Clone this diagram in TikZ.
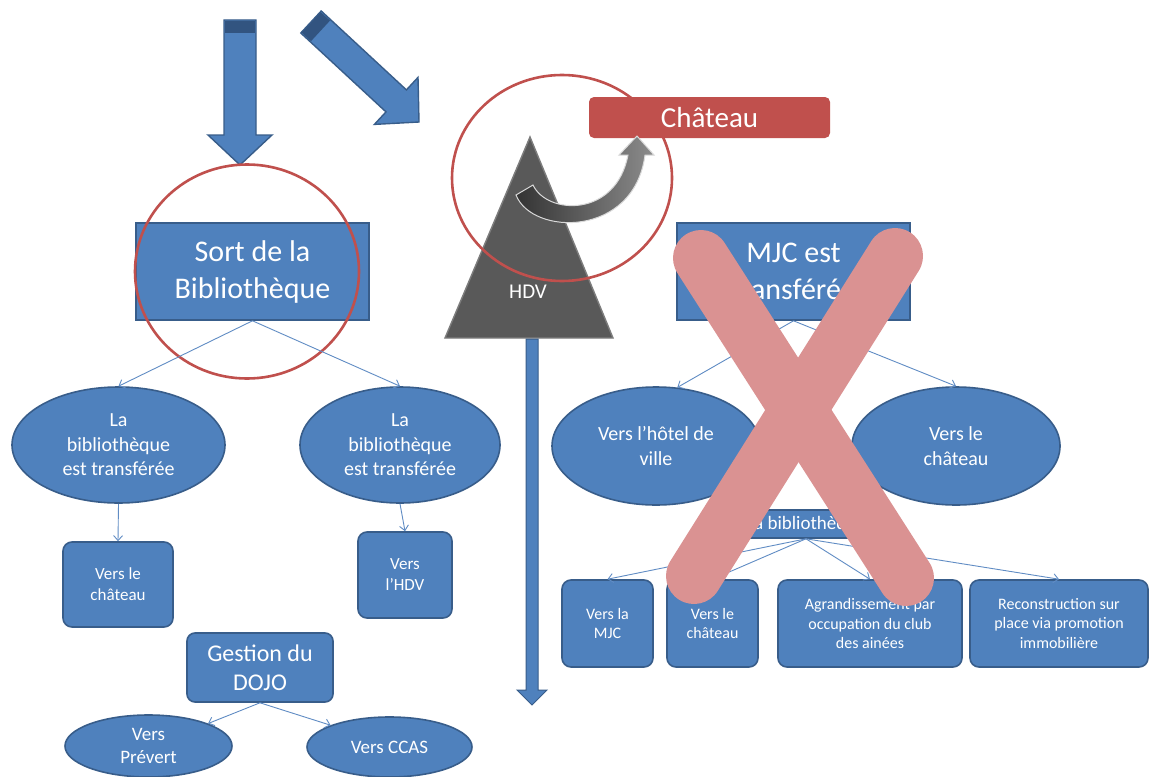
\documentclass[tikz,border=0pt]{standalone}
\usepackage{fontspec}
\setmainfont{Carlito}
\usetikzlibrary{shapes.geometric,arrows.meta,shadings}

\definecolor{bfill}{RGB}{79,129,189}
\definecolor{bline}{RGB}{56,93,138}
\definecolor{bband}{RGB}{50,84,128}
\definecolor{ringred}{RGB}{192,80,77}
\definecolor{redbox}{RGB}{192,80,77}
\definecolor{crosspink}{RGB}{218,146,146}
\definecolor{hdvgray}{RGB}{89,89,89}
\definecolor{hdvedge}{RGB}{125,125,125}
\definecolor{connblue}{RGB}{96,140,196}

\newcommand\fsHead{\fontsize{30}{37}\selectfont}
\newcommand\fsOval{\fontsize{20}{24.5}\selectfont}
\newcommand\fsSmall{\fontsize{17}{21}\selectfont}
\newcommand\fsTiny{\fontsize{16}{19.5}\selectfont}
\newcommand\fsDojo{\fontsize{24}{29}\selectfont}
\newcommand\fsLow{\fontsize{19}{23}\selectfont}

\begin{document}
\begin{tikzpicture}[x=1pt,y=-1pt,
  sq/.style={draw=bline, fill=bfill, line width=1.6pt, text=white, align=center, inner sep=0pt},
  rbox/.style={sq, rounded corners=9pt},
  oval/.style={sq, ellipse},
  conn/.style={draw=connblue, line width=0.9pt, -{Straight Barb[length=5pt,width=9pt]}},
  blockarrow/.style={fill=bfill, draw=bline, line width=1.4pt, line join=miter},
  ringline/.style={draw=ringred, line width=2.6pt},
  crossbar/.style={draw=crosspink, line width=56pt, line cap=round}
]
\useasboundingbox (0,0) rectangle (1150,776);
\fill[white] (0,0) rectangle (1150,776);

% block arrows at the top
\draw[blockarrow] (224,20) -- (256,20) -- (256,135) -- (272,135) -- (240,165)
  -- (208,135) -- (224,135) -- cycle;
\fill[bband] (225,21) rectangle (255,33);
\draw[blockarrow] (300.8,33.0) -- (321.2,11.0) -- (406.4,89.9) -- (418.0,77.4)
  -- (419,122) -- (374.4,124.4) -- (386.0,111.9) -- cycle;
\fill[bband] (301.8,32.6) -- (320.8,12.2) -- (330.0,20.6) -- (311.0,41.2) -- cycle;

% left tree
\node[sq, minimum width=233pt, minimum height=97pt, font=\fsHead] (sort) at (252.5,271.5)
  {Sort de la\\Bibliothèque};
\draw[ringline] (247,271.5) ellipse [x radius=112pt, y radius=107pt];

\node[oval, minimum width=213pt, minimum height=116pt, font=\fsOval] (ell1) at (118.5,445)
  {La\\bibliothèque\\est transférée};
\node[oval, minimum width=200pt, minimum height=116pt, font=\fsOval] (ell2) at (400,445)
  {La\\bibliothèque\\est transférée};
\node[rbox, minimum width=110pt, minimum height=85pt, font=\fsSmall] (chat1) at (118,584.5)
  {Vers le\\château};
\node[rbox, minimum width=94pt, minimum height=86pt, font=\fsSmall] (hdvbox) at (405,575)
  {Vers\\l’HDV};
\node[rbox, rounded corners=8pt, minimum width=146pt, minimum height=69pt, font=\fsDojo] (dojo)
  at (260,667.5) {Gestion du\\DOJO};
\node[oval, minimum width=167pt, minimum height=62pt, font=\fsLow] (prev) at (148.5,746)
  {Vers\\Prévert};
\node[oval, minimum width=165pt, minimum height=60pt, font=\fsLow] (ccas) at (389.5,747)
  {Vers CCAS};

\draw[conn] (sort.south) -- (ell1.north);
\draw[conn] (sort.south) -- (ell2.north);
\draw[conn] (ell1.south) -- (chat1.north);
\draw[conn] (ell2.south) -- (hdvbox.north);
\draw[conn] (dojo.south) -- (prev.north east);
\draw[conn] (dojo.south) -- (ccas.north west);

% town hall
\draw[fill=hdvgray, draw=hdvedge, line width=1.4pt] (530,137) -- (613,338) -- (445,338) -- cycle;
\node[text=white, font=\fontsize{21}{25}\selectfont] (hdv) at (528,292) {HDV};
\draw[blockarrow, line width=1pt] (526,339) -- (538,339) -- (538,690) -- (547,690) -- (532,705)
  -- (517,690) -- (526,690) -- cycle;

\draw[ringline] (562,178) ellipse [x radius=110pt, y radius=103pt];
\node[fill=redbox, rounded corners=5pt, minimum width=241pt, minimum height=41pt, inner sep=0pt,
  text=white, font=\fontsize{29}{34}\selectfont] (chateau) at (709.5,117.5) {Château};

% curved arrow towards the castle
\shade[left color=black!80, right color=black!45, draw=black!15, line width=1pt]
  (533,185) .. controls (547,215) and (616,218) .. (628,155) -- (619,155) -- (637,136)
  -- (654,155) -- (645,155) .. controls (634,238) and (532,236) .. (516,195) -- cycle;

% right tree
\node[sq, minimum width=233pt, minimum height=97pt, font=\fsHead] (mjc) at (793.5,271.5)
  {MJC est\\transférée};
\node[oval, minimum width=208pt, minimum height=118pt, font=\fsOval] (ell3) at (656,446)
  {Vers l’hôtel de\\ville};
\node[oval, minimum width=208pt, minimum height=118pt, font=\fsOval] (ell4) at (956,446)
  {Vers le\\château};
\node[sq, minimum width=140pt, minimum height=28pt, font=\fsLow] (lib) at (806,524)
  {La bibliothèque};
\node[rbox, minimum width=91pt, minimum height=87pt, font=\fsTiny] (mjcbox) at (607.5,623.5)
  {Vers la\\MJC};
\node[rbox, minimum width=91pt, minimum height=87pt, font=\fsTiny] (chat2) at (712.5,623.5)
  {Vers le\\château};
\node[rbox, minimum width=184pt, minimum height=87pt, font=\fsTiny] (agr) at (870,623.5)
  {Agrandissement par\\occupation du club\\des ainées};
\node[rbox, minimum width=178pt, minimum height=87pt, font=\fsTiny] (rec) at (1059,623.5)
  {Reconstruction sur\\place via promotion\\immobilière};

\draw[conn] (mjc.south) -- (ell3.70);
\draw[conn] (mjc.south) -- (ell4.north);
\draw[conn] (lib.south) -- (mjcbox.north);
\draw[conn] (lib.south) -- (chat2.north);
\draw[conn] (lib.south) -- (agr.north);
\draw[conn] (lib.south) -- (rec.north);

% crossing out
\draw[crossbar] (701,258) -- (906,578);
\draw[crossbar] (895,256) -- (694,576);
\end{tikzpicture}
\end{document}
